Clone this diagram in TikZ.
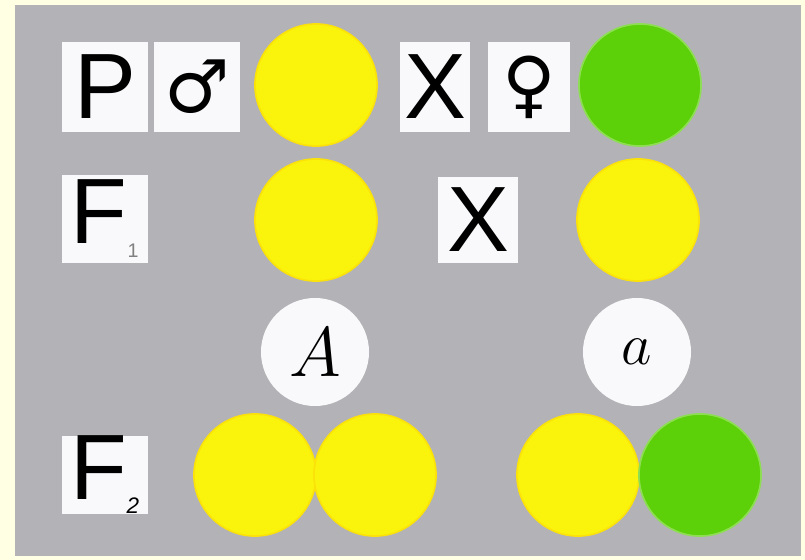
\documentclass[tikz,border=0pt]{standalone}
\usepackage{fix-cm}
\usepackage{fontspec}
\setmainfont{Liberation Sans}
\newfontfamily\symfont{DejaVu Sans}
\usepackage{xcolor}
\usepackage{tikz}

\definecolor{frame}{RGB}{255,255,228}
\definecolor{slate}{RGB}{178,178,183}
\definecolor{peayellow}{RGB}{250,244,12}
\definecolor{peagreen}{RGB}{92,208,8}
\definecolor{card}{RGB}{249,249,251}

\begin{document}
\begin{tikzpicture}[x=0.025cm, y=-0.025cm,
  letter/.style={fill=card, inner sep=0pt, minimum width=2.125cm, minimum height=2.225cm,
    font=\fontsize{66}{66}\selectfont},
  sign/.style={letter, font=\symfont\fontsize{52}{52}\selectfont},
  pea/.style={circle, inner sep=0pt, minimum size=3.05cm, line width=1.2pt},
  yellowpea/.style={pea, fill=peayellow, draw=peayellow!85!orange},
  greenpea/.style={pea, fill=peagreen, draw=peagreen!70!white},
  gamete/.style={circle, fill=card, inner sep=0pt, minimum size=2.7cm,
    font=\fontsize{50}{50}\selectfont}]
% frame and background
\fill[frame] (0,0) rectangle (805,560);
\fill[slate] (15,5) rectangle (801,556);
% parents
\node[letter] (p) at (105,87) {P};
\node[sign] (male) at (197,87) {♂};
\node[yellowpea] (pyellow) at (316,85) {};
\node[letter, minimum width=1.75cm] (cross1) at (435,87) {X};
\node[sign, minimum width=2.05cm] (female) at (529,87) {♀};
\node[greenpea] (pgreen) at (640,85) {};
% first generation
\node[letter, minimum height=2.175cm] (f1) at (105,219) {F\textsubscript{\color{gray}\fontsize{14}{14}\selectfont 1}};
\node[yellowpea] (fleft) at (316,220) {};
\node[letter, minimum width=2cm, minimum height=2.15cm] (cross2) at (478,220) {X};
\node[yellowpea] (fright) at (638,220) {};
% gametes
\node[gamete] (ga) at (315,352) {$A$};
\node[gamete, font=\fontsize{42}{42}\selectfont] (gb) at (637,352) {$a$};
% second generation
\node[letter, minimum height=1.9cm] (f2) at (105,475) {F\textsubscript{\fontsize{16}{16}\selectfont\itshape 2}};
\node[yellowpea] (s1) at (255,475) {};
\node[yellowpea] (s2) at (375,475) {};
\node[yellowpea] (s3) at (578,475) {};
\node[greenpea] (s4) at (700,475) {};
\end{tikzpicture}
\end{document}
